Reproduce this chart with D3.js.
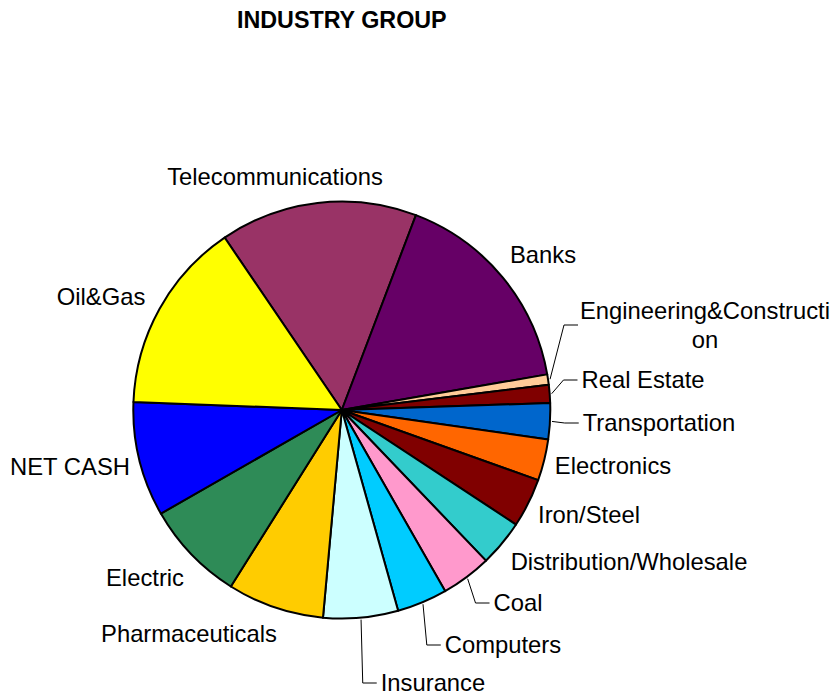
<!DOCTYPE html>
<html>
<head>
<meta charset="utf-8">
<script src="https://cdn.jsdelivr.net/npm/d3@7"></script>
<style>
  body { margin: 0; background: #fff; }
  text { font-family: "Liberation Sans", Arial, sans-serif; fill: #000; }
</style>
</head>
<body>
<div id="chart"></div>
<script>
// industry group shares (%), clockwise from Telecommunications
var categories = ["Telecommunications", "Banks", "Engineering&Construction", "Real Estate",
  "Transportation", "Electronics", "Iron/Steel", "Distribution/Wholesale", "Coal",
  "Computers", "Insurance", "Pharmaceuticals", "Electric", "NET CASH", "Oil&Gas"];
var shares = [15.3, 16.5, 0.8, 1.4, 2.8, 3.2, 3.8, 3.6, 3.9, 3.9, 5.8, 7.5, 7.8, 8.9, 14.9];
var colors = ["#993366", "#660066", "#FFCC99", "#800000", "#0066CC", "#FF6600", "#800000",
  "#33CCCC", "#FF99CC", "#00CCFF", "#CCFFFF", "#FFCC00", "#2E8B57", "#0000FF", "#FFFF00"];
// label text lines (Excel wrapped the long one)
var labelLines = [["Telecommunications"], ["Banks"], ["Engineering&Constructi", "on"], ["Real Estate"],
  ["Transportation"], ["Electronics"], ["Iron/Steel"], ["Distribution/Wholesale"], ["Coal"],
  ["Computers"], ["Insurance"], ["Pharmaceuticals"], ["Electric"], ["NET CASH"], ["Oil&Gas"]];
var hasLeader = [false, false, true, true, true, false, false, false, true, true, true, false, false, false, false];

// label layout (centre of each label block)
var labelCenter = [[275, 177], [543, 255], [705, 325], [643, 380], [659, 423], [613, 466],
  [589, 515], [629, 562], [518, 603], [503, 645], [433, 683], [189, 634], [145, 578],
  [70, 467], [101, 297]];

var w = 833, h = 696;
var cx = 341.8, cy = 410, r = 208.5;
var startDeg = -34.2;

var svg = d3.select("#chart").append("svg")
  .attr("width", w)
  .attr("height", h);

svg.append("rect").attr("width", w).attr("height", h).attr("fill", "white");

svg.append("text")
  .attr("x", cx)
  .attr("y", 20)
  .attr("dy", "0.35em")
  .attr("text-anchor", "middle")
  .style("font-weight", "bold")
  .style("font-size", "23.3px")
  .text("INDUSTRY GROUP");

var a0 = startDeg * Math.PI / 180;
var pie = d3.pie().sort(null).startAngle(a0).endAngle(a0 + 2 * Math.PI);
var arcs = pie(shares);

var arc = d3.arc().innerRadius(0).outerRadius(r);

var g = svg.append("g").attr("transform", "translate(" + cx + "," + cy + ")");

g.selectAll("path")
  .data(arcs)
  .enter()
  .append("path")
  .attr("d", arc)
  .attr("fill", function(d, i) { return colors[i]; })
  .attr("stroke", "#000")
  .attr("stroke-width", 2)
  .attr("stroke-linejoin", "round");

// labels
var labels = svg.selectAll(".lbl")
  .data(arcs)
  .enter()
  .append("text")
  .attr("class", "lbl")
  .attr("text-anchor", "middle")
  .style("font-size", "23.8px");

labels.each(function(d, i) {
  var lines = labelLines[i];
  var lh = 29;
  var top = labelCenter[i][1] - (lines.length - 1) * lh / 2;
  var t = d3.select(this);
  lines.forEach(function(s, k) {
    t.append("tspan")
      .attr("x", labelCenter[i][0])
      .attr("y", top + k * lh)
      .attr("dy", "0.35em")
      .text(s);
  });
});

// leader lines: from slice edge to the left side of the label
labels.each(function(d, i) {
  if (!hasLeader[i]) return;
  var bb = this.getBBox();
  var mid = (d.startAngle + d.endAngle) / 2;
  var p0 = [cx + (r + 2) * Math.sin(mid), cy - (r + 2) * Math.cos(mid)];
  var left = bb.x;
  if (i == 2) left = 582; // wrapped label: line hits first line's start
  var yMid = labelCenter[i][1];
  var end = [left - 4, yMid];
  var elbow = [left - 18, yMid];
  svg.append("polyline")
    .attr("points", [p0, elbow, end].map(function(p) { return p.join(","); }).join(" "))
    .attr("fill", "none")
    .attr("stroke", "#000")
    .attr("stroke-width", 1);
});
</script>
</body>
</html>
